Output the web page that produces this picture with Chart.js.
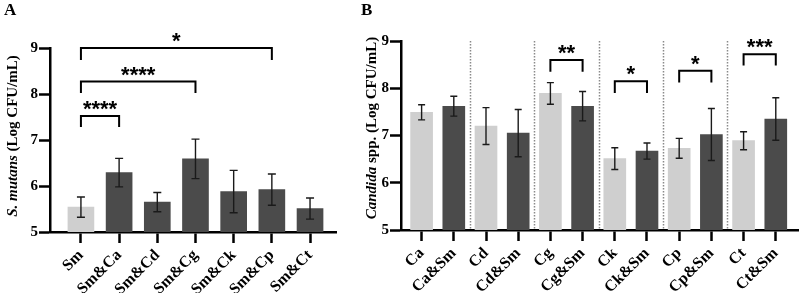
<!DOCTYPE html>
<html>
<head>
<meta charset="utf-8">
<script src="https://cdn.jsdelivr.net/npm/chart.js@4.4.0/dist/chart.umd.min.js"></script>
<style>
    body { margin: 0; background: #fff; }
    #wrap { position: relative; width: 800px; height: 293px; overflow: hidden; }
    .painel { position: absolute; top: 0; height: 293px; }
    .letra { position: absolute; top: 0; font: bold 17px "Liberation Serif"; color: #000; }
</style>
</head>
<body>
<div id="wrap">
    <div class="painel" style="left:0; width:345px;"><canvas id="graficoA"></canvas></div>
    <div class="painel" style="left:345px; width:455px;"><canvas id="graficoB"></canvas></div>
    <div class="letra" style="left:4px;">A</div>
    <div class="letra" style="left:361px;">B</div>
</div>
<script>
// Painel A - S. mutans sozinho e em co-cultura
const categoriasA = ['Sm', 'Sm&Ca', 'Sm&Cd', 'Sm&Cg', 'Sm&Ck', 'Sm&Cp', 'Sm&Ct'];
const mediasA = [5.54, 6.29, 5.65, 6.59, 5.88, 5.92, 5.51];
const desviosA = [0.22, 0.31, 0.21, 0.43, 0.46, 0.34, 0.23];
const coresA = ['#cfcfcf', '#4b4b4b', '#4b4b4b', '#4b4b4b', '#4b4b4b', '#4b4b4b', '#4b4b4b'];
const colchetesA = [
    { de: 0, ate: 1, nivel: 7.52, perna: 7.28, texto: '****' },
    { de: 0, ate: 3, nivel: 8.27, perna: 8.02, texto: '****' },
    { de: 0, ate: 5, nivel: 9.00, perna: 8.74, texto: '*' }
];

// Painel B - Candida spp. sozinha e com S. mutans
const categoriasB = ['Ca', 'Ca&Sm', 'Cd', 'Cd&Sm', 'Cg', 'Cg&Sm', 'Ck', 'Ck&Sm', 'Cp', 'Cp&Sm', 'Ct', 'Ct&Sm'];
const mediasB = [7.49, 7.62, 7.20, 7.05, 7.89, 7.62, 6.51, 6.67, 6.73, 7.02, 6.89, 7.35];
const desviosB = [0.16, 0.21, 0.39, 0.50, 0.23, 0.31, 0.23, 0.17, 0.21, 0.55, 0.19, 0.45];
const coresB = categoriasB.map((c, i) => i % 2 === 0 ? '#cfcfcf' : '#4b4b4b');
const separadoresB = [1.5, 3.5, 5.5, 7.5, 9.5];
const colchetesB = [
    { de: 4, ate: 5, nivel: 8.60, perna: 8.35, texto: '**' },
    { de: 6, ate: 7, nivel: 8.15, perna: 7.90, texto: '*' },
    { de: 8, ate: 9, nivel: 8.37, perna: 8.12, texto: '*' },
    { de: 10, ate: 11, nivel: 8.72, perna: 8.48, texto: '***' }
];

Chart.defaults.font.family = 'Liberation Serif';
const fonteEixoY = { family: 'Liberation Serif', size: 15, weight: 'bold' };
const fonteEixoX = { family: 'Liberation Serif', size: 16, weight: 'bold' };

function criarGrafico(canvasId, categorias, medias, desvios, cores, colchetes, cfg) {
    // barras de erro (media +/- desvio)
    const pluginErros = {
        id: 'erros',
        afterDatasetsDraw(chart) {
            const ctx = chart.ctx;
            const x = chart.scales.x, y = chart.scales.y;
            ctx.save();
            ctx.strokeStyle = '#1a1a1a';
            ctx.lineWidth = 1.4;
            medias.forEach((m, i) => {
                const px = x.getPixelForValue(i);
                const yt = y.getPixelForValue(m + desvios[i]);
                const yb = y.getPixelForValue(m - desvios[i]);
                ctx.beginPath();
                ctx.moveTo(px, yt); ctx.lineTo(px, yb);
                ctx.moveTo(px - cfg.capa, yt); ctx.lineTo(px + cfg.capa, yt);
                ctx.moveTo(px - cfg.capa, yb); ctx.lineTo(px + cfg.capa, yb);
                ctx.stroke();
            });
            ctx.restore();
        }
    };

    // colchetes de significancia
    const pluginColchetes = {
        id: 'colchetes',
        afterDraw(chart) {
            const ctx = chart.ctx;
            const x = chart.scales.x, y = chart.scales.y;
            ctx.save();
            ctx.strokeStyle = '#000';
            ctx.lineWidth = 2;
            ctx.fillStyle = '#000';
            ctx.font = 'bold 22px "Liberation Sans"';
            ctx.textAlign = 'center';
            ctx.textBaseline = 'alphabetic';
            colchetes.forEach(c => {
                const x1 = x.getPixelForValue(c.de);
                const x2 = x.getPixelForValue(c.ate);
                const yn = y.getPixelForValue(c.nivel);
                const yp = y.getPixelForValue(c.perna);
                ctx.beginPath();
                ctx.moveTo(x1, yp); ctx.lineTo(x1, yn); ctx.lineTo(x2, yn); ctx.lineTo(x2, yp);
                ctx.stroke();
                ctx.fillText(c.texto, (x1 + x2) / 2, yn);
            });
            ctx.restore();
        }
    };

    // linhas pontilhadas entre os pares
    const pluginSeparadores = {
        id: 'separadores',
        beforeDatasetsDraw(chart) {
            if (!cfg.separadores) return;
            const ctx = chart.ctx;
            const x = chart.scales.x, area = chart.chartArea;
            ctx.save();
            ctx.strokeStyle = '#8a8a8a';
            ctx.lineWidth = 1.5;
            ctx.setLineDash([1.5, 1.5]);
            cfg.separadores.forEach(s => {
                const px = Math.round(x.getPixelForValue(s)) + 0.5;
                ctx.beginPath();
                ctx.moveTo(px, area.top);
                ctx.lineTo(px, area.bottom);
                ctx.stroke();
            });
            ctx.restore();
        }
    };

    // titulo do eixo y com parte em italico
    const pluginTituloY = {
        id: 'tituloY',
        afterDraw(chart) {
            const ctx = chart.ctx;
            const fItal = 'italic bold 15px "Liberation Serif"';
            const fNorm = 'bold 15px "Liberation Serif"';
            ctx.save();
            ctx.font = fItal;
            const w1 = ctx.measureText(cfg.tituloItalico).width;
            ctx.font = fNorm;
            const w2 = ctx.measureText(cfg.tituloNormal).width;
            ctx.translate(cfg.tituloX, cfg.tituloY);
            ctx.rotate(-Math.PI / 2);
            ctx.fillStyle = '#000';
            ctx.textBaseline = 'middle';
            ctx.textAlign = 'left';
            const inicio = -(w1 + w2) / 2;
            ctx.font = fItal;
            ctx.fillText(cfg.tituloItalico, inicio, 0);
            ctx.font = fNorm;
            ctx.fillText(cfg.tituloNormal, inicio + w1, 0);
            ctx.restore();
        }
    };

    return new Chart(document.getElementById(canvasId), {
        type: 'bar',
        data: {
            datasets: [{
                data: medias.map((m, i) => ({ x: i, y: m })),
                backgroundColor: cores,
                borderWidth: 0,
                barThickness: cfg.larguraBarra
            }]
        },
        options: {
            responsive: true,
            maintainAspectRatio: false,
            animation: false,
            layout: { padding: { left: 0, right: cfg.padDireita, top: cfg.padTopo, bottom: 0 } },
            plugins: {
                legend: { display: false },
                tooltip: { enabled: false }
            },
            scales: {
                x: {
                    type: 'linear',
                    offset: false,
                    min: cfg.xMin,
                    max: cfg.xMax,
                    afterBuildTicks: s => { s.ticks = categorias.map((c, i) => ({ value: i })); },
                    afterFit: s => {
                        s.height = cfg.alturaX;
                        s.paddingLeft = 0;
                        s.paddingRight = 0;
                    },
                    ticks: {
                        callback: v => categorias[v],
                        autoSkip: false,
                        minRotation: 45,
                        maxRotation: 45,
                        padding: 3,
                        color: '#000',
                        font: fonteEixoX
                    },
                    grid: { offset: false, drawOnChartArea: false, drawTicks: true, tickLength: 11, tickWidth: 2.5, tickColor: '#000' },
                    border: { display: true, color: '#000', width: 2.5 }
                },
                y: {
                    min: 5,
                    max: 9,
                    afterFit: s => { s.width = cfg.larguraY; },
                    ticks: { stepSize: 1, padding: 1, color: '#000', font: fonteEixoY },
                    grid: { drawOnChartArea: false, drawTicks: true, tickLength: 11, tickWidth: 2.5, tickColor: '#000' },
                    border: { display: true, color: '#000', width: 2.5 }
                }
            }
        },
        plugins: [pluginSeparadores, pluginErros, pluginColchetes, pluginTituloY]
    });
}

function iniciar() {
    criarGrafico('graficoA', categoriasA, mediasA, desviosA, coresA, colchetesA, {
        xMin: -0.81, xMax: 6.68, larguraBarra: 26, capa: 4,
        padTopo: 48, padDireita: 9, alturaX: 61, larguraY: 50,
        tituloX: 13, tituloY: 136, tituloItalico: 'S. mutans', tituloNormal: ' (Log CFU/mL)'
    });

    criarGrafico('graficoB', categoriasB, mediasB, desviosB, coresB, colchetesB, {
        xMin: -0.64, xMax: 11.69, larguraBarra: 22, capa: 3.5,
        padTopo: 41, padDireita: 2, alturaX: 63, larguraY: 56,
        separadores: separadoresB,
        tituloX: 27, tituloY: 128, tituloItalico: 'Candida', tituloNormal: ' spp. (Log CFU/mL)'
    });
}

// garante que a fonte esta pronta antes de desenhar
Promise.all([
    document.fonts.load('bold 15px "Liberation Serif"'),
    document.fonts.load('italic bold 15px "Liberation Serif"'),
    document.fonts.load('bold 22px "Liberation Sans"')
]).then(iniciar, iniciar);
</script>
</body>
</html>
